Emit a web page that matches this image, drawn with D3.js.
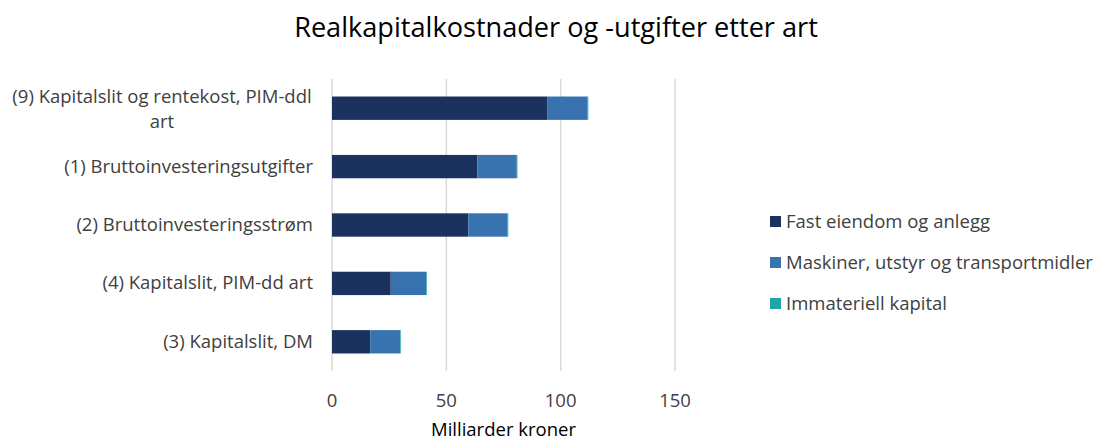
<!DOCTYPE html>
<html>
<head>
<meta charset="utf-8">
<script src="https://cdn.jsdelivr.net/npm/d3@7"></script>
<style>
  body { margin: 0; background: #fff; }
  svg { font-family: "Open Sans", "Noto Sans", sans-serif; }
</style>
</head>
<body>
<div id="chart"></div>
<script>
var w = 1096, h = 441;

var categories = [
  "(9) Kapitalslit og rentekost, PIM-ddl art",
  "(1) Bruttoinvesteringsutgifter",
  "(2) Bruttoinvesteringsstrøm",
  "(4) Kapitalslit, PIM-dd art",
  "(3) Kapitalslit, DM"
];
var seriesNames = ["Fast eiendom og anlegg", "Maskiner, utstyr og transportmidler", "Immateriell kapital"];
var fastEiendom = [94.3, 63.6, 59.6, 25.7, 16.7];
var maskiner = [17.5, 17.2, 17.2, 15.5, 13.1];
var immateriell = [0.3, 0.3, 0.3, 0.3, 0.3];
var colors = ["#1b315e", "#3873b0", "#23a4a8"];
var xTicks = [0, 50, 100, 150];

var marg = { top: 79, left: 332, right: 421, bottom: 70 };

var svg = d3.select("#chart").append("svg")
  .attr("width", w).attr("height", h);

var x = d3.scaleLinear().domain([0, 150]).range([marg.left, w - marg.right]);
var y = d3.scaleBand().domain(categories).range([marg.top, h - marg.bottom]).paddingInner(0.6).paddingOuter(0.3);

// fit a text to the width it has in the reference
function fit(sel, width) {
  var len = sel.node().getComputedTextLength();
  var fs = parseFloat(sel.attr("font-size"));
  sel.attr("font-size", fs * width / len);
}

// title
var title = svg.append("text")
  .attr("x", 556).attr("y", 37)
  .attr("text-anchor", "middle")
  .attr("font-size", 24)
  .attr("fill", "#000")
  .text("Realkapitalkostnader og -utgifter etter art");
fit(title, 524);

// gridlines
svg.append("g").selectAll("line")
  .data(xTicks)
  .join("line")
  .attr("x1", function(d) { return x(d); })
  .attr("x2", function(d) { return x(d); })
  .attr("y1", marg.top)
  .attr("y2", h - marg.bottom)
  .attr("stroke", "#d9d9d9")
  .attr("stroke-width", 1.5);

// stacked bars
var rows = categories.map(function(c, i) {
  return { cat: c, v0: fastEiendom[i], v1: maskiner[i], v2: immateriell[i] };
});
var stack = d3.stack().keys(["v0", "v1", "v2"])(rows);

svg.append("g").selectAll("g")
  .data(stack)
  .join("g")
  .attr("fill", function(d, i) { return colors[i]; })
  .selectAll("rect")
  .data(function(d) { return d; })
  .join("rect")
  .attr("x", function(d) { return x(d[0]); })
  .attr("width", function(d) { return Math.max(0, x(d[1]) - x(d[0])); })
  .attr("y", function(d) { return y(d.data.cat); })
  .attr("height", y.bandwidth());

// x axis labels
svg.append("g").selectAll("text")
  .data(xTicks)
  .join("text")
  .attr("x", function(d) { return x(d); })
  .attr("y", 407)
  .attr("text-anchor", "middle")
  .attr("font-size", 18.5)
  .attr("fill", "#404040")
  .text(function(d) { return d; });

var axTitle = svg.append("text")
  .attr("x", (x(0) + x(150)) / 2).attr("y", 436)
  .attr("text-anchor", "middle")
  .attr("font-size", 17)
  .attr("fill", "#000")
  .text("Milliarder kroner");
fit(axTitle, 145);

// category labels, first one wraps
var labelX = 313;
var labelSize = 18.5;
categories.forEach(function(c, i) {
  var cy = y(c) + y.bandwidth() / 2;
  if (i === 0) {
    var t = svg.append("text")
      .attr("text-anchor", "middle")
      .attr("font-size", labelSize)
      .attr("fill", "#404040");
    t.append("tspan").attr("x", 162).attr("y", cy - 5).text("(9) Kapitalslit og rentekost, PIM-ddl");
    t.append("tspan").attr("x", 162).attr("y", cy + 20).text("art");
  } else {
    svg.append("text")
      .attr("x", labelX).attr("y", cy + 6)
      .attr("text-anchor", "end")
      .attr("font-size", labelSize)
      .attr("fill", "#404040")
      .text(c);
  }
});

// legend
var legend = svg.append("g").selectAll("g")
  .data(seriesNames)
  .join("g")
  .attr("transform", function(d, i) { return "translate(770," + (222 + i * 41) + ")"; });

legend.append("rect")
  .attr("x", 0).attr("y", -6).attr("width", 11).attr("height", 11)
  .attr("fill", function(d, i) { return colors[i]; });

legend.append("text")
  .attr("x", 16).attr("y", 6)
  .attr("font-size", labelSize)
  .attr("fill", "#404040")
  .text(function(d) { return d; });
</script>
</body>
</html>
